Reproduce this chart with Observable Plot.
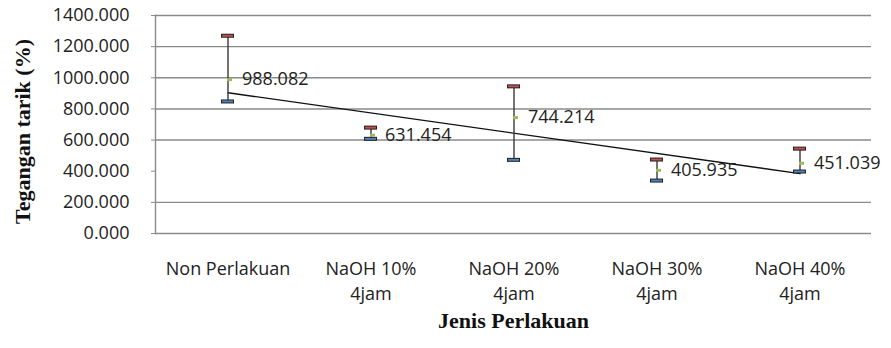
<!DOCTYPE html>
<html>
<head>
<meta charset="utf-8">
<script src="https://cdn.jsdelivr.net/npm/d3@7"></script>
<script src="https://cdn.jsdelivr.net/npm/@observablehq/plot@0.6"></script>
<style>
  html, body { margin: 0; padding: 0; background: #fff; }
  #chart svg { display: block; }
</style>
</head>
<body>
<div id="chart"></div>
<script>
const categories = ["Non Perlakuan", "NaOH 10% 4jam", "NaOH 20% 4jam", "NaOH 30% 4jam", "NaOH 40% 4jam"];
const tickLabels = ["Non Perlakuan", "NaOH 10%\n4jam", "NaOH 20%\n4jam", "NaOH 30%\n4jam", "NaOH 40%\n4jam"];
const means = [988.082, 631.454, 744.214, 405.935, 451.039];
const upper = [1270, 680, 945, 475, 545];
const lower = [848, 608, 473, 340, 398];
const yTicks = [0, 200, 400, 600, 800, 1000, 1200, 1400];
const gridValues = [0, 200, 600, 800, 1000, 1200, 1400];
const yTitle = "Tegangan tarik (%)";
const xTitle = "Jenis Perlakuan";

const data = categories.map((c, i) => ({cat: c, mean: means[i], upper: upper[i], lower: lower[i]}));

// linear trendline of the means (as in the spreadsheet chart)
const n = means.length;
const xs = means.map((_, i) => i + 1);
const mx = d3.mean(xs), my = d3.mean(means);
const slope = d3.sum(xs, (x, i) => (x - mx) * (means[i] - my)) / d3.sum(xs, x => (x - mx) ** 2);
const intercept = my - slope * mx;
const trend = [0, n - 1].map(i => ({cat: categories[i], value: intercept + slope * (i + 1)}));

const gray = "#8a8a8a";
const chart = Plot.plot({
  width: 891,
  height: 348,
  marginLeft: 155,
  marginRight: 20,
  marginTop: 15,
  marginBottom: 115,
  style: {fontFamily: "'Open Sans', sans-serif", fontSize: "18px", color: "#222", background: "#fff"},
  x: {type: "band", domain: categories, padding: 0},
  y: {domain: [0, 1400]},
  marks: [
    Plot.ruleY(gridValues, {stroke: gray, strokeWidth: 1.4}),
    Plot.frame({anchor: "left", stroke: gray, strokeWidth: 1.4}),
    Plot.axisY({ticks: yTicks, tickFormat: d3.format(".3f"), tickSize: 4, tickPadding: 22, stroke: gray, label: null, fontSize: 18, fill: "#222"}),
    Plot.axisX({tickFormat: d => tickLabels[categories.indexOf(d)], tickSize: 0, tickPadding: 24, label: null, fontSize: 18, lineHeight: 1.38, fill: "#222"}),
    Plot.lineY(trend, {x: "cat", y: "value", stroke: "#111", strokeWidth: 1.4}),
    Plot.ruleX(data, {x: "cat", y1: "lower", y2: "upper", stroke: "#3a3a3a", strokeWidth: 1.4}),
    Plot.tickY(data, {x: "cat", y: "upper", stroke: "#222", strokeWidth: 4, insetLeft: 65, insetRight: 65}),
    Plot.tickY(data, {x: "cat", y: "upper", stroke: "#c0504d", strokeWidth: 2, insetLeft: 66, insetRight: 66}),
    Plot.tickY(data, {x: "cat", y: "lower", stroke: "#222", strokeWidth: 4, insetLeft: 65, insetRight: 65}),
    Plot.tickY(data, {x: "cat", y: "lower", stroke: "#4f81bd", strokeWidth: 2, insetLeft: 66, insetRight: 66}),
    Plot.tickY(data, {x: "cat", y: "mean", stroke: "#9bbb59", strokeWidth: 3, insetLeft: 71, insetRight: 67}),
    Plot.text(data, {x: "cat", y: "mean", text: d => d3.format(".3f")(d.mean), textAnchor: "start", dx: 14, fontSize: 18, fill: "#222"}),
    Plot.text([yTitle], {frameAnchor: "left", textAnchor: "middle", dx: -133, dy: 7, rotate: -90, fontFamily: "'Liberation Serif', serif", fontWeight: "bold", fontSize: 22, fill: "#111"}),
    Plot.text([xTitle], {frameAnchor: "bottom", textAnchor: "middle", dy: 94, fontFamily: "'Liberation Serif', serif", fontWeight: "bold", fontSize: 22, fill: "#111"})
  ]
});
document.getElementById("chart").appendChild(chart);
</script>
</body>
</html>
